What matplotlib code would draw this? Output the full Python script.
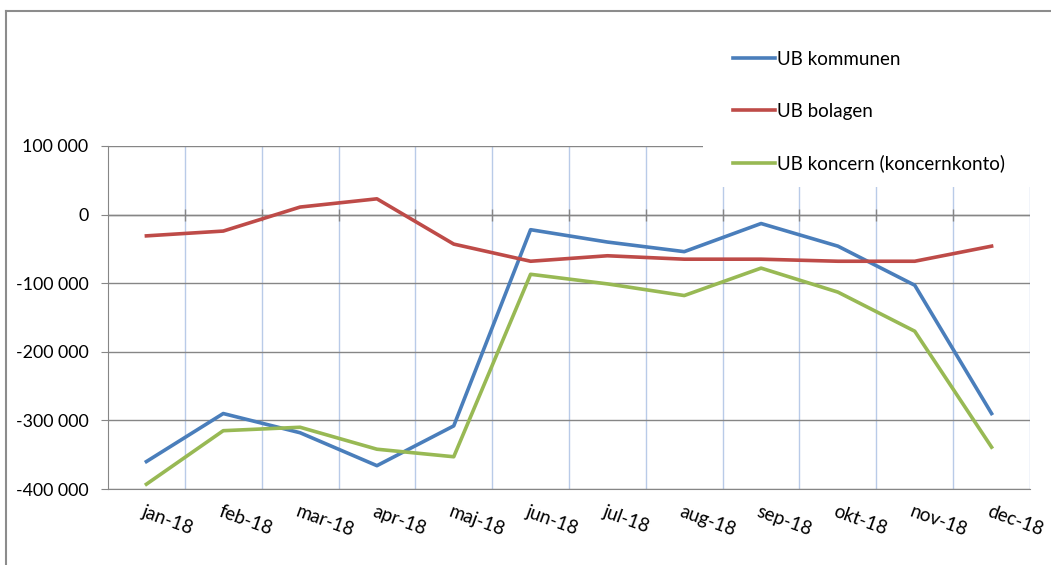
import numpy as np
import matplotlib
matplotlib.use("Agg")
from matplotlib import pyplot as plt
from matplotlib import transforms
from matplotlib.lines import Line2D
from matplotlib.patches import Rectangle
from matplotlib.ticker import FuncFormatter

months = ["jan-18", "feb-18", "mar-18", "apr-18", "maj-18", "jun-18",
          "jul-18", "aug-18", "sep-18", "okt-18", "nov-18", "dec-18"]
ub_kommunen = [-360000, -290000, -318000, -366000, -308000, -22000,
               -40000, -54000, -13000, -46000, -103000, -290000]
ub_bolagen = [-31000, -24000, 11000, 23000, -43000, -68000,
              -60000, -65000, -65000, -68000, -68000, -46000]
ub_koncern = [-393000, -315000, -310000, -342000, -353000, -87000,
              -101000, -118000, -78000, -113000, -170000, -339000]
yticks = [100000, 0, -100000, -200000, -300000, -400000]

plt.rcParams['font.family'] = ['Lato', 'DejaVu Sans']
fs = 13.5

W, H = 1051, 565
fig = plt.figure(figsize=(W / 100, H / 100), dpi=100)
ax = fig.add_axes([108 / W, (H - 489) / H, (1030 - 108) / W, (489 - 146) / H])

x = np.arange(len(months))
ax.plot(x, ub_kommunen, color="#4a7ebb", lw=2.6, label="UB kommunen", zorder=5)
ax.plot(x, ub_bolagen, color="#be4b48", lw=2.6, label="UB bolagen", zorder=5)
ax.plot(x, ub_koncern, color="#98b954", lw=2.6, label="UB koncern (koncernkonto)", zorder=5)

ax.set_xlim(-0.5, len(months) - 0.5)
ax.set_ylim(-400000, 100000)

# horizontal gridlines
ax.set_yticks(yticks)
ax.yaxis.set_major_formatter(FuncFormatter(lambda v, p: f"{int(v):,}".replace(",", " ")))
ax.grid(axis="y", color="#868686", lw=1.0, zorder=1)
ax.tick_params(axis="y", length=5, color="#868686", labelsize=12.8, pad=9)

# vertical gridlines between categories
bounds = x[:-1] + 0.5
ax.set_xticks(np.append(bounds, len(months) - 0.5), minor=True)
ax.grid(axis="x", which="minor", color="#b9cbe8", lw=1.0, zorder=1)
ax.set_xticks(x)
ax.set_xticklabels(months, rotation=-20, ha="left", rotation_mode="anchor", fontsize=fs)
ax.tick_params(axis="x", which="both", length=0, pad=10)
off = transforms.ScaledTranslation(-1 / 100, 0, fig.dpi_scale_trans)
for lab in ax.get_xticklabels():
    lab.set_transform(lab.get_transform() + off)

# horizontal axis crossing at 0 with tick marks
ax.axhline(0, color="#868686", lw=1.0, zorder=2)
ax.plot(bounds, np.zeros_like(bounds), ls="none", marker="|", ms=8, mew=1.0,
        color="#868686", zorder=2)

for s in ["top", "right"]:
    ax.spines[s].set_visible(False)
ax.spines["left"].set_color("#868686")
ax.spines["bottom"].set_color("#868686")

# legend area covers the top right corner of the plot
fig.add_artist(Rectangle((703 / W, 1 - 187 / H), 1 - 703 / W, 187 / H,
                         transform=fig.transFigure, facecolor="white",
                         edgecolor="none", zorder=3))
fig.legend(loc="upper left", bbox_to_anchor=(733 / W, 1 - 51 / H), frameon=False,
           fontsize=fs, handlelength=2.25, handletextpad=0.12, labelspacing=1.85,
           borderpad=0, borderaxespad=0)

# chart frame
fig.add_artist(Line2D([6 / W, 6 / W], [0, 1 - 11 / H], transform=fig.transFigure,
                      color="#8c8c8c", lw=1.5, zorder=6))
fig.add_artist(Line2D([6 / W, 1], [1 - 11 / H, 1 - 11 / H], transform=fig.transFigure,
                      color="#8c8c8c", lw=1.5, zorder=6))

fig.savefig("out.png", dpi=100)
